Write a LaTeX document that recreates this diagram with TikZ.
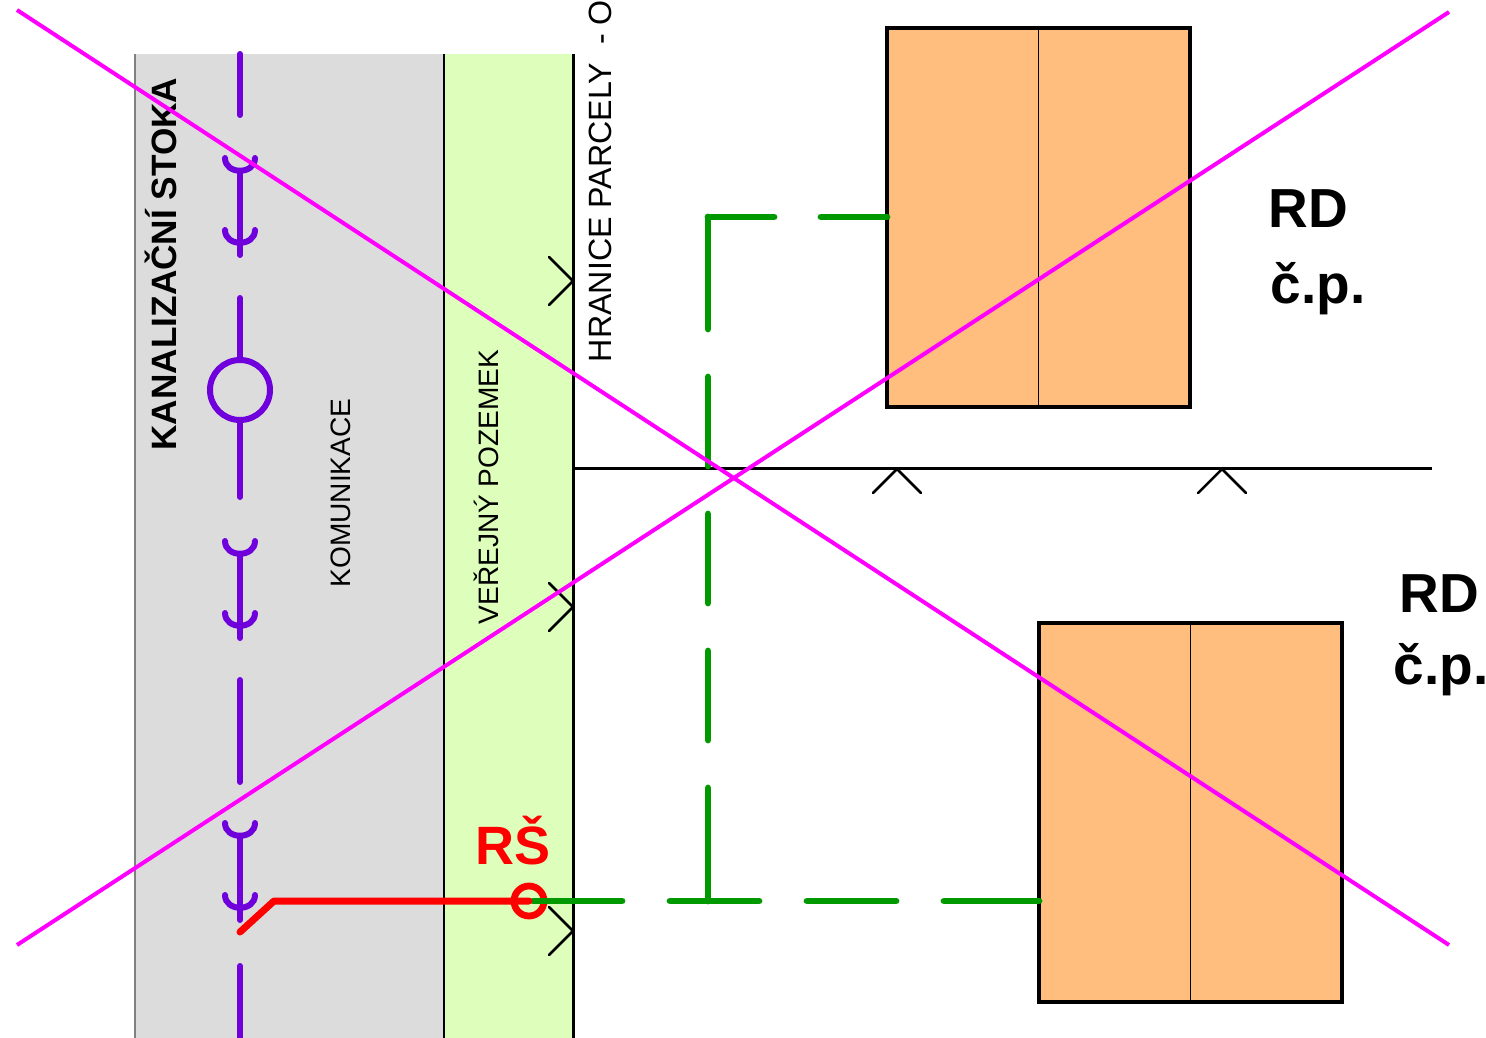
\documentclass[tikz,border=0pt]{standalone}
\usepackage{fontspec}
\setmainfont{Liberation Sans}
\usetikzlibrary{positioning}
\definecolor{roadgrey}{HTML}{DCDCDC}
\definecolor{plotgreen}{HTML}{DDFFBB}
\definecolor{houseorange}{HTML}{FFBE7D}
\definecolor{sewerviolet}{HTML}{6F00DC}
\definecolor{drain}{HTML}{009900}
\definecolor{crossline}{HTML}{FF00FF}
\definecolor{branchred}{HTML}{FF0000}
\tikzset{
  socket/.pic={
    \draw (-15,0) .. controls (-15,17) and (15,17) .. (15,0);
    \draw (-15,72) .. controls (-15,89) and (15,89) .. (15,72);
    \draw (0,13) -- (0,97);
  }
}
\begin{document}
\begin{tikzpicture}[x=1pt,y=-1pt,
  house node/.style={rectangle,draw,line width=3.8pt,fill=houseorange,outer sep=0pt,minimum width=303pt,minimum height=379pt},
  side text/.style={rotate=90,inner sep=0pt,font=\fontsize{28.1}{30}\selectfont},
  big text/.style={anchor=base,inner sep=0pt,font=\fontsize{55}{57}\selectfont\bfseries},
  sewer/.style={sewerviolet,line width=6pt,line cap=round},
  drainline/.style={drain,line width=6.8pt,line cap=round},
  branch/.style={branchred,line width=7pt,line cap=round,line join=round},
  tick/.style={black,line width=2.5pt,line cap=round,line join=miter},
  cross/.style={crossline,line width=4pt}]
\useasboundingbox (0,0) rectangle (1486,1038);
% strips along the street
\fill[roadgrey] (135,54) rectangle (444,1038);
\fill[plotgreen] (444,54) rectangle (573,1038);
\draw[gray,line width=1.5pt] (135,54) -- (135,1038);
\draw[line width=1.8pt] (444,54) -- (444,1038);
\draw[line width=3pt] (573,54) -- (573,1038);
\draw[line width=2.5pt] (573,468.5) -- (1432,468.5);

% plot boundary marks
\foreach \y in {257,583,907} {
  \draw[tick] (549,\y) -- (573,\y+24) -- (549,\y+48);
}
\foreach \x in {873,1198} {
  \draw[tick] (\x,493) -- (\x+24,469) -- (\x+48,493);
}

% houses
\node[house node] (houseA) at (1038.5,217.5) {};
\node[house node] (houseB) [below right = 216pt and -151pt of houseA] {};
\draw[line width=1.5pt] (houseA.north) -- (houseA.south);
\draw[line width=1.5pt] (houseB.north) -- (houseB.south);

% sewer
\draw[sewer] (240,54) -- (240,115);
\draw[sewer] (240,298) -- (240,497);
\draw[sewer] (240,680) -- (240,782);
\draw[sewer] (240,966) -- (240,1038);
\foreach \y in {158,541,823} {
  \pic[sewer] at (240,\y) {socket};
}
\node[circle,draw=sewerviolet,line width=6pt,fill=roadgrey,minimum size=60pt,inner sep=0pt,outer sep=0pt] (shaft) at (240,390) {};

% connection
\node[circle,draw=branchred,line width=6.8pt,minimum size=30pt,inner sep=0pt,outer sep=0pt] (rs) at (529,901) {};
\coordinate (main) at (240,932);
\coordinate (knee) at (274,901);
\coordinate (tee) at (708,901);
\coordinate (bend) at (708,217);
\draw[drainline,dash pattern=on 95 off 48 on 89 off 48 on 89 off 48 on 89] (houseB.west |- rs) -- (rs.center);
\draw[drainline,dash pattern=on 112 off 48 on 89 off 48 on 89 off 48 on 89 off 48 on 115] (bend) -- (tee);
\draw[drainline,dash pattern=on 66 off 47 on 66] (bend) -- (houseA.west |- bend);
\draw[branch] (main) -- (knee) -- (rs.center);

% texts
\node[side text,font=\fontsize{35.2}{37}\selectfont\bfseries] (stoka) at (161,264) {KANALIZAČNÍ STOKA};
\node[side text] (road) at (341,493) {KOMUNIKACE};
\node[side text] (public) at (486,487) {VEŘEJNÝ POZEMEK};
\node[side text,font=\fontsize{32.2}{34}\selectfont] (border) at (600,181) {HRANICE PARCELY\ \ - O};
\node[big text,branchred,font=\fontsize{54}{56}\selectfont\bfseries] (rslabel) at (513,864.5) {RŠ};
\node[big text] (rdA) at (1308,227) {RD};
\node[big text] (cpA) at (1318,303) {č.p.};
\node[big text] (rdB) at (1439,612) {RD};
\node[big text] (cpB) at (1441,684) {č.p.};

% crossed out
\draw[cross] (17,10) -- (1449,945);
\draw[cross] (17,945) -- (1449,12);
\end{tikzpicture}
\end{document}
